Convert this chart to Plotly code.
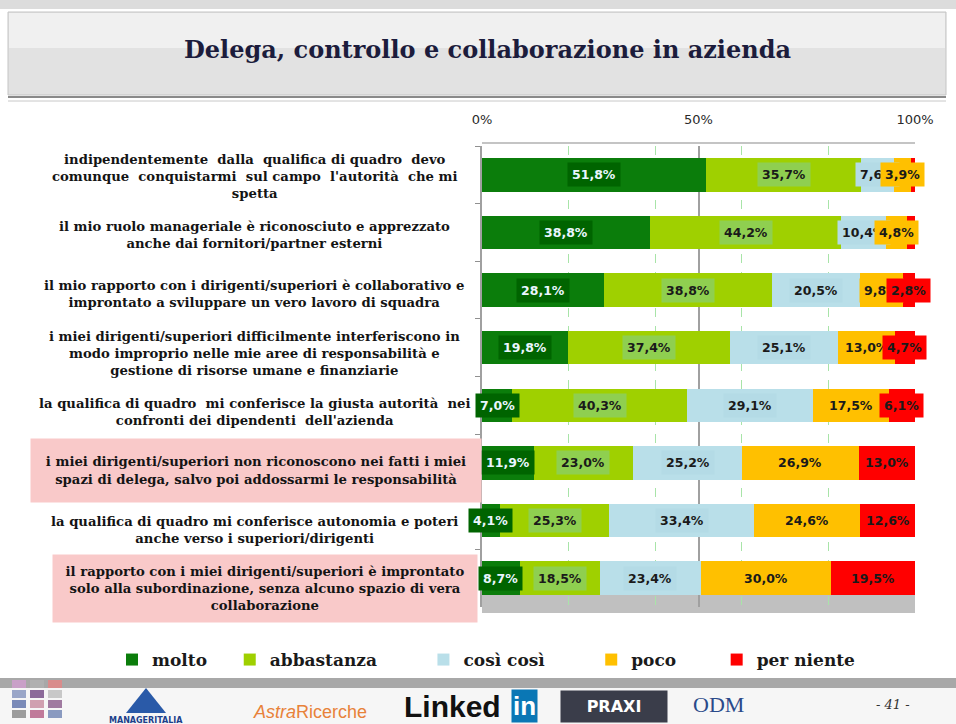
import plotly.graph_objects as go

# ---------------- data ----------------
statements = [
    "indipendentemente  dalla  qualifica di quadro  devo<br>comunque  conquistarmi  sul campo  l'autorità  che mi<br>spetta",
    "il mio ruolo manageriale è riconosciuto e apprezzato<br>anche dai fornitori/partner esterni",
    "il mio rapporto con i dirigenti/superiori è collaborativo e<br>improntato a sviluppare un vero lavoro di squadra",
    "i miei dirigenti/superiori difficilmente interferiscono in<br>modo improprio nelle mie aree di responsabilità e<br>gestione di risorse umane e finanziarie",
    "la qualifica di quadro  mi conferisce la giusta autorità  nei<br>confronti dei dipendenti  dell'azienda",
    "i miei dirigenti/superiori non riconoscono nei fatti i miei<br>spazi di delega, salvo poi addossarmi le responsabilità",
    "la qualifica di quadro mi conferisce autonomia e poteri<br>anche verso i superiori/dirigenti",
    "il rapporto con i miei dirigenti/superiori è improntato<br>solo alla subordinazione, senza alcuno spazio di vera<br>collaborazione",
]
series_names = ["molto", "abbastanza", "così così", "poco", "per niente"]
molto      = [51.8, 38.8, 28.1, 19.8, 7.0, 11.9, 4.1, 8.7]
abbastanza = [35.7, 44.2, 38.8, 37.4, 40.3, 23.0, 25.3, 18.5]
cosi_cosi  = [7.6, 10.4, 20.5, 25.1, 29.1, 25.2, 33.4, 23.4]
poco       = [3.9, 4.8, 9.8, 13.0, 17.5, 26.9, 24.6, 30.0]
per_niente = [1.0, 1.8, 2.8, 4.7, 6.1, 13.0, 12.6, 19.5]
series_values = [molto, abbastanza, cosi_cosi, poco, per_niente]
x_tick_vals = [0, 50, 100]
x_tick_text = ["0%", "50%", "100%"]
title_text = "Delega, controllo e collaborazione in azienda"

# ---------------- style ----------------
bar_colors = ["#0b7d0b", "#9fd000", "#b9dfe9", "#ffc000", "#ff0000"]
label_bg = ["#006400", "#8fcf50", "#b4dbe6", "#ffc000", "#ff0000"]
label_fg = ["#eaf6ff", "#1a1a1a", "#1a1a1a", "#1a1a1a", "#1a1a1a"]
legend_pad = [3, 7, 7, 6, 0]   # extra spacing after each legend entry (nbsp count)
highlighted = {5: dict(width=448, height=61, x=256), 7: dict(width=422, height=65, x=265)}
W, H = 956, 724
def py(p):  # pixel y -> paper
    return 1 - p / H
def px(p):
    return p / W

fig = go.Figure()
for name, vals, col, pad in zip(series_names, series_values, bar_colors, legend_pad):
    fig.add_trace(go.Bar(
        y=statements, x=vals, name=name + "\u00a0" * pad, orientation="h",
        marker=dict(color=col, line=dict(width=0)),
        hovertemplate=name + ": %{x:.1f}%<extra></extra>",
    ))

annotations = []
# data labels
for i, stmt in enumerate(statements):
    cum = 0
    for s, vals in enumerate(series_values):
        v = vals[i]
        if v >= 2:
            annotations.append(dict(
                x=cum + v / 2, y=stmt, xref="x", yref="y", xanchor="center", yanchor="middle",
                text=f"{v:.1f}%".replace(".", ","), showarrow=False,
                font=dict(family="DejaVu Sans", size=12.5, color=label_fg[s], weight="bold"),
                bgcolor=label_bg[s], borderpad=4,
            ))
        cum += v

# category labels (slightly lower than the bars, following the 3D wall)
for i, stmt in enumerate(statements):
    a = dict(x=px(254), y=stmt, xref="paper", yref="y", text="<b>" + stmt + "</b>",
             showarrow=False, align="center", xanchor="center", yanchor="middle",
             yshift=-round(1.2 * i) - 2,
             font=dict(family="DejaVu Serif", size=13.2, color="#141414"))
    if i in highlighted:
        h = highlighted[i]
        a.update(bgcolor="#f9c9c9", width=h["width"], height=h["height"], x=px(h["x"]))
    annotations.append(a)

def ptxt(x, y, text, **kw):
    d = dict(x=px(x), y=py(y), xref="paper", yref="paper", text=text, showarrow=False,
             xanchor="center", yanchor="middle")
    d.update(kw)
    return d

# title
annotations.append(ptxt(487, 50, "<b>" + title_text + "</b>",
                        font=dict(family="DejaVu Serif", size=24, color="#1c1c3c")))
# footer texts (logo approximations)
annotations += [
    ptxt(893, 704, "<i>- 41 -</i>", font=dict(family="DejaVu Serif", size=13, color="#333")),
    ptxt(452, 706, "<b>Linked</b>", font=dict(family="Liberation Sans", size=30, color="#111")),
    ptxt(524, 706, "<b>in</b>", bgcolor="#0a77b5", borderpad=1,
         font=dict(family="Liberation Sans", size=26, color="white")),
    ptxt(614, 706, "<b>PRAXI</b>", bgcolor="#3a3d4a", borderpad=6, width=94,
         font=dict(family="DejaVu Sans", size=16, color="white")),
    ptxt(718, 704, "ODM", font=dict(family="Liberation Serif", size=22, color="#2a4a8a")),
    ptxt(310, 712, "<i>Astra</i>Ricerche", font=dict(family="Liberation Sans", size=18, color="#e8823a")),
    ptxt(146, 720, "<b>MANAGERITALIA</b>", font=dict(family="DejaVu Sans", size=8, color="#1d3f8a")),
]

shapes = [
    # top strip and title band
    dict(type="rect", xref="paper", yref="paper", x0=0, x1=1, y0=py(9), y1=1,
         fillcolor="#dcdcdc", line=dict(width=0), layer="below"),
    dict(type="rect", xref="paper", yref="paper", x0=px(8), x1=px(946), y0=py(95), y1=py(12),
         fillcolor="#e2e2e2", line=dict(color="#c4c4c4", width=1), layer="below"),
    dict(type="rect", xref="paper", yref="paper", x0=px(9), x1=px(945), y0=py(48), y1=py(13),
         fillcolor="#f0f0f0", line=dict(width=0), layer="below"),
    dict(type="line", xref="paper", yref="paper", x0=px(8), x1=px(946), y0=py(97), y1=py(97),
         line=dict(color="#8a8a8a", width=2)),
    dict(type="line", xref="paper", yref="paper", x0=px(8), x1=px(946), y0=py(101), y1=py(101),
         line=dict(color="#c8c8c8", width=1)),
    # top edge of the chart wall
    dict(type="line", xref="x", yref="paper", x0=0, x1=100, y0=py(143), y1=py(143),
         line=dict(color="#b0b0b0", width=1.5), layer="below"),
    # floor of the chart
    dict(type="rect", xref="x", yref="paper", x0=0, x1=100, y0=py(613), y1=py(595),
         fillcolor="#c0c0c0", line=dict(width=0), layer="below"),
    # footer band
    dict(type="rect", xref="paper", yref="paper", x0=0, x1=1, y0=py(688), y1=py(678),
         fillcolor="#a8a8a8", line=dict(width=0), layer="below"),
    dict(type="rect", xref="paper", yref="paper", x0=0, x1=1, y0=0, y1=py(688),
         fillcolor="#f6f6f6", line=dict(width=0), layer="below"),
    # managerialia triangle
    dict(type="path", xref="paper", yref="paper",
         path=f"M {px(126)},{py(713)} L {px(146)},{py(688)} L {px(166)},{py(713)} Z",
         fillcolor="#2a5aa8", line=dict(width=0)),
]
# small coloured squares logo (bottom-left)
sq_cols = ["#c9a0c8", "#b0b0b0", "#d98c8c", "#9aa6c8", "#8c6a9a", "#c8c8c8",
           "#7a8ab8", "#d0a0b0", "#a07aa0", "#9c9c9c", "#c07a9a", "#8a9ac0"]
for k, c in enumerate(sq_cols):
    r, q = divmod(k, 3)
    shapes.append(dict(type="rect", xref="paper", yref="paper",
                       x0=px(12 + q * 18), x1=px(26 + q * 18),
                       y0=py(688 + r * 10), y1=py(680 + r * 10),
                       fillcolor=c, line=dict(width=0)))

fig.update_layout(
    width=W, height=H,
    margin=dict(l=0, r=0, t=0, b=0, autoexpand=False),
    paper_bgcolor="white", plot_bgcolor="rgba(0,0,0,0)",
    barmode="stack", bargap=0.42,
    showlegend=True,
    legend=dict(orientation="h", x=px(112), y=py(660), xanchor="left", yanchor="middle",
                font=dict(family="DejaVu Serif", size=17, color="#1a1a1a", weight="bold"),
                itemwidth=30, traceorder="normal", bgcolor="rgba(0,0,0,0)"),
    xaxis=dict(domain=[px(482), px(915)], range=[0, 100], side="top",
               tickvals=x_tick_vals, ticktext=x_tick_text,
               showgrid=True, gridcolor="#a0a0a0", gridwidth=1.5,
               minor=dict(dtick=20, showgrid=True, gridcolor="#a8e4a8", griddash="dash", gridwidth=1),
               zeroline=False, ticks="", ticklabelstandoff=18,
               tickfont=dict(family="DejaVu Sans", size=13, color="#2a2a2a"),
               fixedrange=True),
    yaxis=dict(domain=[py(607), py(146)], autorange="reversed", type="category",
               showticklabels=False, ticks="outside", tickson="boundaries", ticklen=5,
               tickcolor="#909090", showline=True, linecolor="#a0a0a0", linewidth=1.5,
               showgrid=False, fixedrange=True),
    annotations=annotations, shapes=shapes,
)

fig.write_html("out.html", config={"displayModeBar": False},
               post_script="document.body.style.margin='0';document.body.style.overflow='hidden';")
